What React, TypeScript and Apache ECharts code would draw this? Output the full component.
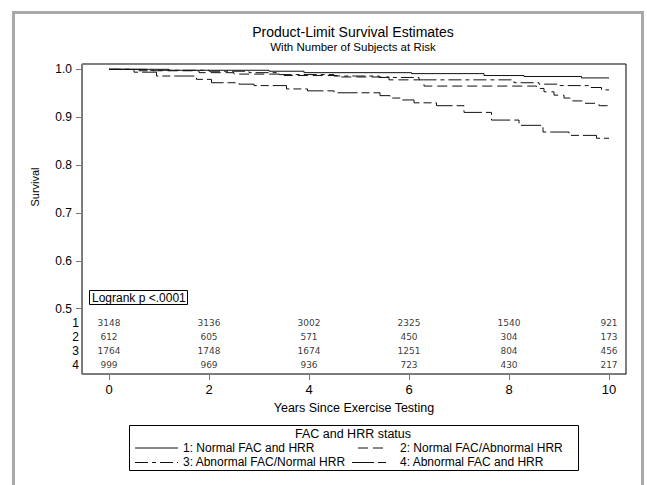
import React, { useEffect, useRef } from "react";
import * as echarts from "echarts";

// ---- Data ----
const curve1Times = [0, 1.2, 3.2, 3.9, 6.05, 7.5, 8.3, 9.45, 10.0];
const curve1Surv = [1.0, 0.998, 0.996, 0.993, 0.991, 0.987, 0.985, 0.982, 0.982];

const curve2Times = [0, 0.6, 1.8, 2.5, 3.5, 4.6, 5.6, 6.3, 8.55, 8.7, 8.9, 9.1, 9.25, 9.5, 9.8, 10.0];
const curve2Surv = [1.0, 0.997, 0.993, 0.99, 0.987, 0.984, 0.978, 0.965, 0.96, 0.953, 0.946, 0.94, 0.934, 0.929, 0.924, 0.924];

const curve3Times = [0, 0.8, 2.0, 2.8, 3.4, 4.5, 5.4, 6.2, 8.1, 8.6, 9.0, 9.6, 9.85, 10.0];
const curve3Surv = [1.0, 0.998, 0.996, 0.993, 0.989, 0.986, 0.983, 0.978, 0.972, 0.969, 0.966, 0.962, 0.957, 0.957];

const curve4Times = [0, 0.5, 0.95, 1.75, 2.05, 2.6, 2.9, 3.55, 3.97, 4.5, 5.42, 5.62, 5.85, 6.1, 6.55, 7.1, 7.65, 8.2, 8.68, 9.2, 9.75, 10.0];
const curve4Surv = [1.0, 0.994, 0.986, 0.979, 0.972, 0.969, 0.966, 0.959, 0.955, 0.951, 0.945, 0.94, 0.936, 0.93, 0.924, 0.91, 0.894, 0.883, 0.869, 0.862, 0.856, 0.856];

const seriesNames = [
  "1: Normal FAC and HRR",
  "2: Normal FAC/Abnormal HRR",
  "3: Abnormal FAC/Normal HRR",
  "4: Abnormal FAC and HRR",
];

const riskTimes = [0, 2, 4, 6, 8, 10];
const risk1 = [3148, 3136, 3002, 2325, 1540, 921];
const risk2 = [612, 605, 571, 450, 304, 173];
const risk3 = [1764, 1748, 1674, 1251, 804, 456];
const risk4 = [999, 969, 936, 723, 430, 217];
const riskRowLabels = ["1", "2", "3", "4"];

const xTicks = [0, 2, 4, 6, 8, 10];
const yTicks = [0.5, 0.6, 0.7, 0.8, 0.9, 1.0];

const titleText = "Product-Limit Survival Estimates";
const subtitleText = "With Number of Subjects at Risk";
const xAxisTitle = "Years Since Exercise Testing";
const yAxisTitle = "Survival";
const legendTitle = "FAC and HRR status";
const logrankText = "Logrank p <.0001";

// ---- Layout ----
const FONT = "Liberation Sans, Arial, sans-serif";
const GRID = { left: 82, top: 64, right: 21, bottom: 111 };
const W = 647;
const H = 485;
const GRID_H = H - GRID.top - GRID.bottom;
const X_MIN = -0.54;
const X_MAX = 10.34;
const Y_MIN = 0.3636;
const Y_MAX = 1.0111;
const RISK_ROW_PX = [322.7, 336.7, 351, 365];
const yFromPx = (py: number) => Y_MAX - ((py - GRID.top) / GRID_H) * (Y_MAX - Y_MIN);

const DASHES: any[] = ["solid", [10, 5], [13, 4, 4, 4], [20, 4, 8, 4]];

function pairs(ts: number[], ss: number[]) {
  return ts.map((t, i) => [t, ss[i]]);
}

export default function App() {
  const ref = useRef<HTMLDivElement>(null);
  useEffect(() => {
    if (!ref.current) return;
    const chart = echarts.init(ref.current, null, { renderer: "svg" });

    const curves = [
      pairs(curve1Times, curve1Surv),
      pairs(curve2Times, curve2Surv),
      pairs(curve3Times, curve3Surv),
      pairs(curve4Times, curve4Surv),
    ];
    const risks = [risk1, risk2, risk3, risk4];

    const lineSeries = curves.map((d, i) => ({
      type: "line",
      name: seriesNames[i],
      data: d,
      step: "end",
      symbol: "none",
      silent: true,
      lineStyle: { color: "#111", width: 1, type: DASHES[i] },
      z: 3,
    }));

    const riskSeries = risks.map((vals, r) => ({
      type: "scatter",
      name: "risk" + (r + 1),
      silent: true,
      symbolSize: 1,
      itemStyle: { color: "rgba(0,0,0,0)" },
      data: riskTimes.map((t, i) => [t, yFromPx(RISK_ROW_PX[r]), vals[i]]),
      label: {
        show: true,
        position: "inside",
        formatter: (p: any) => String(p.data[2]),
        fontSize: 9,
        fontFamily: "DejaVu Sans, sans-serif",
        color: "#000",
      },
    }));

    const legendItems: any[] = [];
    const legendPos = [
      { lx: 135, lx2: 178, tx: 183, y: 447.5 },
      { lx: 358, lx2: 387, tx: 400, y: 447.5 },
      { lx: 135, lx2: 178, tx: 183, y: 462 },
      { lx: 352, lx2: 387, tx: 400, y: 462 },
    ];
    seriesNames.forEach((n, i) => {
      const p = legendPos[i];
      legendItems.push({
        type: "line",
        shape: { x1: p.lx, y1: p.y + 0.5, x2: p.lx2, y2: p.y + 0.5 },
        style: {
          stroke: "#111",
          lineWidth: 1,
          lineDash: i === 0 ? null : i === 1 ? [10, 5] : i === 2 ? [13, 4, 4, 4] : [22, 4, 8, 4],
        },
      });
      legendItems.push({
        type: "text",
        x: p.tx,
        y: p.y,
        style: { text: n, fontSize: 12, fontFamily: FONT, fill: "#000", textVerticalAlign: "middle" },
      });
    });

    chart.setOption({
      animation: false,
      grid: {
        left: GRID.left,
        top: GRID.top,
        right: GRID.right,
        bottom: GRID.bottom,
        show: true,
        borderColor: "#000",
        borderWidth: 1,
        backgroundColor: "transparent",
      },
      xAxis: {
        type: "value",
        min: X_MIN,
        max: X_MAX,
        splitLine: { show: false },
        axisLine: { show: true, onZero: false, lineStyle: { color: "#777", width: 1 } },
        axisTick: { show: true, length: 6, lineStyle: { color: "#777" }, customValues: xTicks },
        axisLabel: {
          show: true,
          customValues: xTicks,
          margin: 9,
          fontSize: 13,
          fontFamily: FONT,
          color: "#000",
        },
      },
      yAxis: {
        type: "value",
        min: Y_MIN,
        max: Y_MAX,
        splitLine: { show: false },
        axisLine: { show: true, onZero: false, lineStyle: { color: "#777", width: 1 } },
        axisTick: { show: true, length: 6, lineStyle: { color: "#777" }, customValues: yTicks },
        axisLabel: {
          show: true,
          customValues: yTicks,
          margin: 10,
          fontSize: 12,
          fontFamily: FONT,
          color: "#000",
          formatter: (v: number) => v.toFixed(1),
        },
      },
      series: [...lineSeries, ...riskSeries],
      graphic: [
        {
          type: "rect",
          shape: { x: 13.5, y: 12.5, width: 629, height: 530 },
          style: { fill: "none", stroke: "#a9a9a9", lineWidth: 3 },
          silent: true,
        },
        {
          type: "text",
          x: 353,
          y: 32,
          style: { text: titleText, fontSize: 14, fontFamily: FONT, fill: "#000", textAlign: "center", textVerticalAlign: "middle" },
        },
        {
          type: "text",
          x: 353,
          y: 47,
          style: { text: subtitleText, fontSize: 11.5, fontFamily: FONT, fill: "#000", textAlign: "center", textVerticalAlign: "middle" },
        },
        {
          type: "text",
          x: 35,
          y: 187,
          rotation: Math.PI / 2,
          style: { text: yAxisTitle, fontSize: 11, fontFamily: FONT, fill: "#000", textAlign: "center", textVerticalAlign: "middle" },
        },
        {
          type: "text",
          x: 354,
          y: 408,
          style: { text: xAxisTitle, fontSize: 12.5, fontFamily: FONT, fill: "#000", textAlign: "center", textVerticalAlign: "middle" },
        },
        {
          type: "rect",
          shape: { x: 89.5, y: 290.5, width: 98, height: 14 },
          style: { fill: "#fff", stroke: "#000", lineWidth: 1 },
        },
        {
          type: "text",
          x: 92,
          y: 297.5,
          style: { text: logrankText, fontSize: 12, fontFamily: FONT, fill: "#000", textVerticalAlign: "middle" },
        },
        ...riskRowLabels.map((l, i) => ({
          type: "text",
          x: 79,
          y: RISK_ROW_PX[i],
          style: { text: l, fontSize: 12, fontFamily: FONT, fill: "#000", textAlign: "right", textVerticalAlign: "middle" },
        })),
        {
          type: "rect",
          shape: { x: 129.5, y: 425.5, width: 449, height: 45 },
          style: { fill: "#fff", stroke: "#000", lineWidth: 1 },
        },
        {
          type: "text",
          x: 353,
          y: 434,
          style: { text: legendTitle, fontSize: 12.5, fontFamily: FONT, fill: "#000", textAlign: "center", textVerticalAlign: "middle" },
        },
        ...legendItems,
      ],
    });
    return () => chart.dispose();
  }, []);
  return <div ref={ref} style={{ position: "absolute", left: 0, top: 0, width: W, height: H }} />;
}
